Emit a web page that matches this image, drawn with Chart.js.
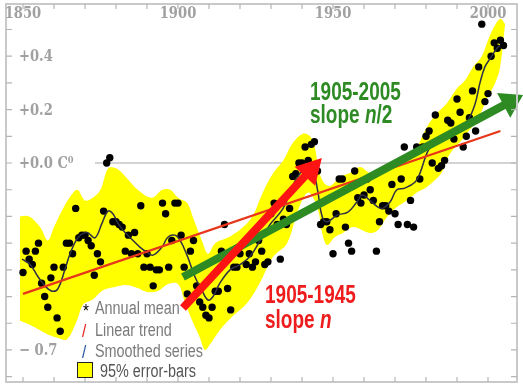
<!DOCTYPE html>
<html lang="en">
<head>
<meta charset="UTF-8">
<title>Temperature anomaly 1850-2005</title>
<script src="https://cdn.jsdelivr.net/npm/chart.js"></script>
<style>
  html, body { margin: 0; padding: 0; background: #fff; }
  #chart { display: block; }
</style>
</head>
<body>
<canvas id="chart" width="523" height="388"></canvas>
<script>
// ---- data ----
const firstYear = 1850;
const annualMean = [
  -0.41, -0.33, -0.36, -0.38, -0.33, -0.30, -0.45, -0.50, -0.54, -0.43,   // 1850s
  -0.39, -0.58, -0.63, -0.39, -0.30, -0.30, -0.34, -0.17, -0.28, -0.27,   // 1860s
  -0.27, -0.29, -0.31, -0.42, -0.34, -0.37, -0.18, 0.00, 0.02, -0.22,     // 1870s
  -0.22, -0.23, -0.24, -0.33, -0.27, -0.34, -0.26, -0.34, -0.16, -0.39,   // 1880s
  -0.34, -0.39, -0.46, -0.40, -0.40, -0.15, -0.19, -0.39, -0.29, -0.15,   // 1890s
  -0.15, -0.27, -0.39, -0.49, -0.33, -0.29, -0.46, -0.52, -0.54, -0.57,   // 1900s
  -0.58, -0.54, -0.48, -0.48, -0.33, -0.23, -0.47, -0.55, -0.39, -0.39,   // 1910s
  -0.34, -0.30, -0.38, -0.34, -0.39, -0.37, -0.29, -0.33, -0.38, -0.37,   // 1920s
  -0.19, -0.15, -0.23, -0.36, -0.21, -0.23, -0.17, -0.05, -0.04, 0.00,    // 1930s
  0.00, 0.06, 0.01, 0.07, 0.08, -0.03, -0.23, -0.22, -0.22, -0.25,        // 1940s
  -0.34, -0.19, -0.06, -0.06, -0.24, -0.30, -0.33, -0.03, -0.13, -0.15,   // 1950s
  -0.12, -0.06, -0.10, -0.14, -0.33, -0.22, -0.16, -0.16, -0.18, -0.08,   // 1960s
  -0.19, -0.23, -0.06, 0.06, -0.23, -0.14, -0.24, 0.06, -0.06, 0.06,      // 1970s
  0.10, 0.12, 0.00, 0.18, -0.02, -0.01, 0.01, 0.16, 0.15, 0.09,           // 1980s
  0.24, 0.19, 0.06, 0.10, 0.17, 0.27, 0.12, 0.36, 0.52, 0.23,             // 1990s
  0.26, 0.40, 0.45, 0.43, 0.46, 0.44                                      // 2000-2005
];

const smoothYears = [1849.7, 1852.3, 1854.8, 1857.1, 1859.4, 1861.3, 1863.5, 1865.2, 1867.7, 1870.6,
  1873.2, 1875.5, 1877.4, 1879.0, 1880.6, 1882.9, 1885.5, 1887.7, 1890.0, 1891.9,
  1894.8, 1896.8, 1899.0, 1900.6, 1902.9, 1905.5, 1907.7, 1909.7, 1911.3, 1913.5,
  1916.8, 1920.0, 1923.2, 1926.5, 1929.7, 1933.9, 1936.8, 1938.7, 1941.6, 1943.5,
  1945.0, 1946.5, 1948.1, 1951.3, 1954.8, 1957.7, 1959.4, 1961.9, 1964.5, 1966.1,
  1968.4, 1970.6, 1973.2, 1976.5, 1978.1, 1980.3, 1982.6, 1985.2, 1988.4, 1991.6,
  1993.5, 1995.8, 1997.4, 1999.0, 2000.6, 2002.9, 2003.9];
const smoothValues = [-0.36, -0.38, -0.425, -0.46, -0.48, -0.47, -0.40, -0.34, -0.28, -0.26,
  -0.28, -0.225, -0.18, -0.19, -0.225, -0.26, -0.29, -0.315, -0.335, -0.345,
  -0.315, -0.277, -0.27, -0.288, -0.345, -0.427, -0.476, -0.513, -0.50, -0.45,
  -0.40, -0.38, -0.35, -0.29, -0.23, -0.17, -0.09, -0.05, -0.015, -0.03,
  -0.10, -0.20, -0.22, -0.195, -0.184, -0.146, -0.12, -0.14, -0.165, -0.17,
  -0.146, -0.10, -0.094, -0.071, -0.037, 0.037, 0.08, 0.095, 0.12, 0.145,
  0.16, 0.22, 0.30, 0.36, 0.39, 0.43, 0.44];

const bandUpperYears = [1849, 1852, 1855.5, 1858, 1860, 1862.5, 1865, 1867.5, 1870, 1872.5,
  1875, 1877.5, 1880, 1883, 1887, 1891.5, 1895, 1897.5, 1900, 1903,
  1905, 1907.7, 1909.7, 1912, 1916, 1920, 1924, 1927, 1930.3, 1934,
  1937, 1940.3, 1942.6, 1944.2, 1945.2, 1946.8, 1949, 1952.3, 1955.5, 1958.7,
  1962, 1965, 1968.4, 1971.6, 1975.8, 1978, 1980.3, 1983, 1986.8, 1990,
  1992.6, 1995.2, 1998, 2000, 2002, 2004, 2005.5];
const bandUpperValues = [-0.20, -0.20, -0.24, -0.29, -0.24, -0.18, -0.13, -0.10, -0.14, -0.13,
  -0.10, -0.02, -0.02, -0.05, -0.10, -0.13, -0.10, -0.10, -0.13, -0.15,
  -0.21, -0.29, -0.34, -0.30, -0.28, -0.25, -0.20, -0.12, -0.045, 0.01,
  0.075, 0.11, 0.10, 0.056, -0.015, -0.07, -0.086, -0.052, -0.037, -0.015,
  -0.037, -0.026, -0.015, 0.01, 0.022, 0.08, 0.135, 0.18, 0.225, 0.28,
  0.31, 0.36, 0.40, 0.46, 0.51, 0.54, 0.52];

const bandLowerYears = [1849, 1853, 1857.7, 1861.3, 1864.2, 1867.4, 1869.4, 1872.6, 1875.8, 1879.7,
  1883, 1887, 1890, 1893.5, 1896.8, 1900, 1902.3, 1904.5, 1907, 1908.7,
  1910.3, 1913.5, 1917.7, 1922.3, 1926.5, 1930.6, 1935.2, 1938.4, 1941, 1942.6,
  1945.2, 1946.5, 1948.1, 1950.6, 1953.2, 1956.5, 1961.9, 1964.5, 1967.4, 1970.6,
  1973.9, 1977.1, 1979.7, 1982.9, 1985.2, 1987.1, 1989.4, 1991.6, 1993.5, 1995.8,
  1998.1, 1999.7, 2002.3, 2003.9, 2005.5];
const bandLowerValues = [-0.59, -0.61, -0.64, -0.655, -0.66, -0.59, -0.53, -0.51, -0.476, -0.464,
  -0.457, -0.468, -0.483, -0.479, -0.453, -0.453, -0.524, -0.588, -0.652, -0.70,
  -0.68, -0.625, -0.573, -0.524, -0.446, -0.352, -0.30, -0.187, -0.12, -0.112,
  -0.176, -0.262, -0.307, -0.277, -0.262, -0.24, -0.262, -0.251, -0.202, -0.165,
  -0.139, -0.109, -0.094, -0.064, -0.034, 0.022, 0.06, 0.086, 0.116, 0.15,
  0.199, 0.243, 0.30, 0.36, 0.52];

const trendYears = [1850, 2004];
const trendValues = [-0.49, 0.12];

const arrowShortYears = [1901.6, 1946.4];
const arrowShortValues = [-0.543, 0.019];
const arrowLongYears = [1901.6, 2011.3];
const arrowLongValues = [-0.427, 0.255];

const xTickYears = [1850, 1860, 1870, 1880, 1890, 1900, 1910, 1920, 1930, 1940, 1950, 1960, 1970, 1980, 1990, 2000];
const xLabelYears = [1850, 1900, 1950, 2000];
const yTickValues = [-0.8, -0.7, -0.6, -0.5, -0.4, -0.3, -0.2, -0.1, 0, 0.1, 0.2, 0.3, 0.4, 0.5];
const yLabelValues = [0.4, 0.2, 0, -0.7];
const yLabelTexts = ['+0.4', '+0.2', '+0.0 C\u2070', '\u2212 0.7'];

const pts = (xs, ys) => xs.map((x, i) => ({ x: x, y: ys[i] }));

// condensed text helper
function squeezed(ctx, text, x, y, sx) {
  ctx.save();
  ctx.translate(x, y);
  ctx.scale(sx, 1);
  ctx.fillText(text, 0, 0);
  const w = ctx.measureText(text).width * sx;
  ctx.restore();
  return w;
}

function arrow(ctx, x0, y0, x1, y1, color, width, headLen, headW) {
  const a = Math.atan2(y1 - y0, x1 - x0);
  const bx = x1 - headLen * Math.cos(a), by = y1 - headLen * Math.sin(a);
  ctx.save();
  ctx.strokeStyle = color;
  ctx.fillStyle = color;
  ctx.lineWidth = width;
  ctx.beginPath();
  ctx.moveTo(x0, y0);
  ctx.lineTo(bx + 2 * Math.cos(a), by + 2 * Math.sin(a));
  ctx.stroke();
  ctx.beginPath();
  ctx.moveTo(x1, y1);
  ctx.lineTo(bx + headW / 2 * Math.sin(a), by - headW / 2 * Math.cos(a));
  ctx.lineTo(bx - headW / 2 * Math.sin(a), by + headW / 2 * Math.cos(a));
  ctx.closePath();
  ctx.fill();
  ctx.restore();
}

const decorations = {
  id: 'decorations',
  beforeDatasetsDraw(chart) {
    const { ctx, chartArea: a, scales: { y } } = chart;
    // zero reference line
    ctx.save();
    ctx.strokeStyle = '#a8a8a8';
    ctx.lineWidth = 1.2;
    ctx.beginPath();
    ctx.moveTo(95, y.getPixelForValue(0));
    ctx.lineTo(a.right, y.getPixelForValue(0));
    ctx.stroke();
    ctx.restore();
  },
  afterDatasetsDraw(chart) {
    const { ctx, chartArea: a, scales: { x, y } } = chart;
    const px = (v) => x.getPixelForValue(v);
    const py = (v) => y.getPixelForValue(v);

    // arrows
    arrow(ctx, px(arrowLongYears[0]), py(arrowLongValues[0]), px(arrowLongYears[1]), py(arrowLongValues[1]),
      '#2e8b24', 8, 22, 28);
    arrow(ctx, px(arrowShortYears[0]), py(arrowShortValues[0]), px(arrowShortYears[1]), py(arrowShortValues[1]),
      '#ff1414', 8, 25, 28);

    // frame
    ctx.save();
    ctx.strokeStyle = '#c9c9c9';
    ctx.lineWidth = 2;
    ctx.strokeRect(a.left, a.top, a.right - a.left, a.bottom - a.top);
    ctx.lineWidth = 1.2;
    ctx.strokeStyle = '#b5b5b5';
    ctx.beginPath();
    xTickYears.forEach(t => {
      ctx.moveTo(px(t), a.top); ctx.lineTo(px(t), a.top + 5);
      ctx.moveTo(px(t), a.bottom); ctx.lineTo(px(t), a.bottom - 5);
    });
    yTickValues.forEach(t => {
      ctx.moveTo(a.left, py(t)); ctx.lineTo(a.left + 6, py(t));
      ctx.moveTo(a.right, py(t)); ctx.lineTo(a.right - 6, py(t));
    });
    ctx.stroke();

    // axis labels
    ctx.fillStyle = '#a0a0a0';
    ctx.font = 'bold 16px "DejaVu Serif"';
    ctx.textBaseline = 'alphabetic';
    xLabelYears.forEach(t => {
      ctx.save();
      ctx.translate(px(t), 18);
      ctx.scale(0.82, 1);
      ctx.textAlign = 'center';
      ctx.fillText(String(t), 0, 0);
      ctx.restore();
    });
    ctx.textAlign = 'left';
    ctx.textBaseline = 'middle';
    yLabelValues.forEach((v, i) => squeezed(ctx, yLabelTexts[i], 19, py(v) + 1, 0.82));

    // annotations
    ctx.textBaseline = 'alphabetic';
    ctx.font = 'bold 25px "Liberation Sans", Arial, sans-serif';
    ctx.fillStyle = '#2e8b24';
    squeezed(ctx, '1905-2005', 310, 100, 0.76);
    let w = squeezed(ctx, 'slope ', 310, 123, 0.76);
    ctx.font = 'bold italic 25px "Liberation Sans", Arial, sans-serif';
    w += squeezed(ctx, 'n', 310 + w, 123, 0.76);
    ctx.font = 'bold 25px "Liberation Sans", Arial, sans-serif';
    squeezed(ctx, '/2', 310 + w, 123, 0.76);

    ctx.fillStyle = '#ee1c1c';
    squeezed(ctx, '1905-1945', 265, 303, 0.76);
    w = squeezed(ctx, 'slope ', 265, 328, 0.76);
    ctx.font = 'bold italic 25px "Liberation Sans", Arial, sans-serif';
    squeezed(ctx, 'n', 265 + w, 328, 0.76);

    // legend
    ctx.font = '18px "Liberation Sans", Arial, sans-serif';
    ctx.fillStyle = '#000';
    squeezed(ctx, '*', 83, 317, 0.85);
    ctx.fillStyle = '#e02020';
    squeezed(ctx, '/', 82, 337, 0.85);
    ctx.fillStyle = '#2455a0';
    squeezed(ctx, '/', 82, 358, 0.85);
    ctx.fillStyle = '#7b7b7b';
    squeezed(ctx, 'Annual mean', 95, 314, 0.8);
    squeezed(ctx, 'Linear trend', 95, 336, 0.8);
    squeezed(ctx, 'Smoothed series', 95, 357, 0.8);
    ctx.fillStyle = '#ffff00';
    ctx.fillRect(77, 362, 15, 15);
    ctx.strokeStyle = '#222';
    ctx.lineWidth = 1;
    ctx.strokeRect(77.5, 362.5, 15, 15);
    ctx.fillStyle = '#555';
    squeezed(ctx, '95% error-bars', 100, 377, 0.8);
    ctx.restore();
  }
};

new Chart(document.getElementById('chart'), {
  type: 'line',
  data: {
    datasets: [
      { label: 'upper', data: pts(bandUpperYears, bandUpperValues), borderWidth: 0, pointRadius: 0,
        fill: false, tension: 0.35, order: 10 },
      { label: 'lower', data: pts(bandLowerYears, bandLowerValues), borderWidth: 0, pointRadius: 0,
        fill: '-1', backgroundColor: '#ffff00', tension: 0.35, order: 9 },
      { label: 'Annual mean', data: annualMean.map((v, i) => ({ x: firstYear + i, y: v })), showLine: false,
        pointRadius: 3.7, pointBackgroundColor: '#000', pointBorderWidth: 0, order: 3 },
      { label: 'Smoothed series', data: pts(smoothYears, smoothValues), borderColor: '#2d3044', borderWidth: 1.5,
        pointRadius: 0, tension: 0.4, fill: false, order: 2 },
      { label: 'Linear trend', data: pts(trendYears, trendValues), borderColor: '#e8361a', borderWidth: 2.2,
        pointRadius: 0, fill: false, order: 1 }
    ]
  },
  options: {
    responsive: false,
    animation: false,
    layout: { padding: { left: 6, right: 6, top: 4, bottom: 6 } },
    scales: {
      x: { type: 'linear', display: false, min: 1844.52, max: 2009.35 },
      y: { type: 'linear', display: false, min: -0.820, max: 0.5955 }
    },
    plugins: { legend: { display: false }, tooltip: { enabled: false } }
  },
  plugins: [decorations]
});
</script>
</body>
</html>
